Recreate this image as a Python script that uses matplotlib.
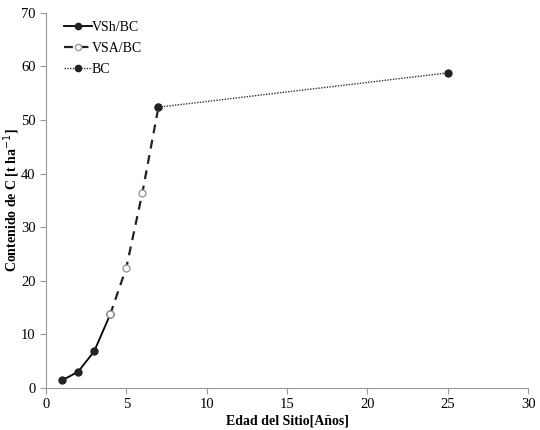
import matplotlib
matplotlib.use("Agg")
import matplotlib.pyplot as plt

plt.rcParams['font.family'] = ['Liberation Serif', 'DejaVu Serif']

vsh_x = [1, 2, 3, 4]
vsh_y = [1.4, 3.0, 6.8, 13.7]
vsa_x = [4, 5, 6, 7]
vsa_y = [13.7, 22.4, 36.4, 52.4]
bc_x = [7, 25]
bc_y = [52.4, 58.8]

fig = plt.figure(figsize=(5.4, 4.3), dpi=100)
ax = fig.add_axes([0.085, 0.098, 0.893, 0.872])

ax.plot(vsh_x, vsh_y, '-', color='black', lw=1.3, marker='o', ms=5,
        mfc='#222222', mec='#222222', label='VSh/BC')
ax.plot(vsa_x, vsa_y, linestyle=(0, (4, 3)), color='#222222', lw=1.6, marker='o', ms=5,
        mfc='white', mec='#999999', label='VSA/BC')
ax.plot(bc_x, bc_y, linestyle=(0, (1, 1)), color='#333333', lw=1.0, marker='o', ms=5,
        mfc='#222222', mec='#222222', label='BC')

ax.set_xlim(0, 30)
ax.set_ylim(0, 70)
ax.set_xticks([0, 5, 10, 15, 20, 25, 30])
ax.set_yticks([0, 10, 20, 30, 40, 50, 60, 70])
for s in ['top', 'right']:
    ax.spines[s].set_visible(False)
for s in ['left', 'bottom']:
    ax.spines[s].set_color('#999999')
ax.tick_params(direction='out', length=4, color='#999999', labelsize=10.5)

ax.set_xlabel('Edad del Sitio[Años]', fontweight='bold', fontsize=10, labelpad=2)
ax.set_ylabel('Contenido de C [t ha$^{-1}$]', fontweight='bold', fontsize=10)
ax.yaxis.set_label_coords(-0.05, 0.5)

leg = ax.legend(loc='upper left', frameon=False, fontsize=10, handlelength=2.0,
                handletextpad=0.0, borderaxespad=0.2, labelspacing=0.55,
                markerscale=0.9, bbox_to_anchor=(0.02, 1.0))

fig.savefig('out.png', dpi=100)
